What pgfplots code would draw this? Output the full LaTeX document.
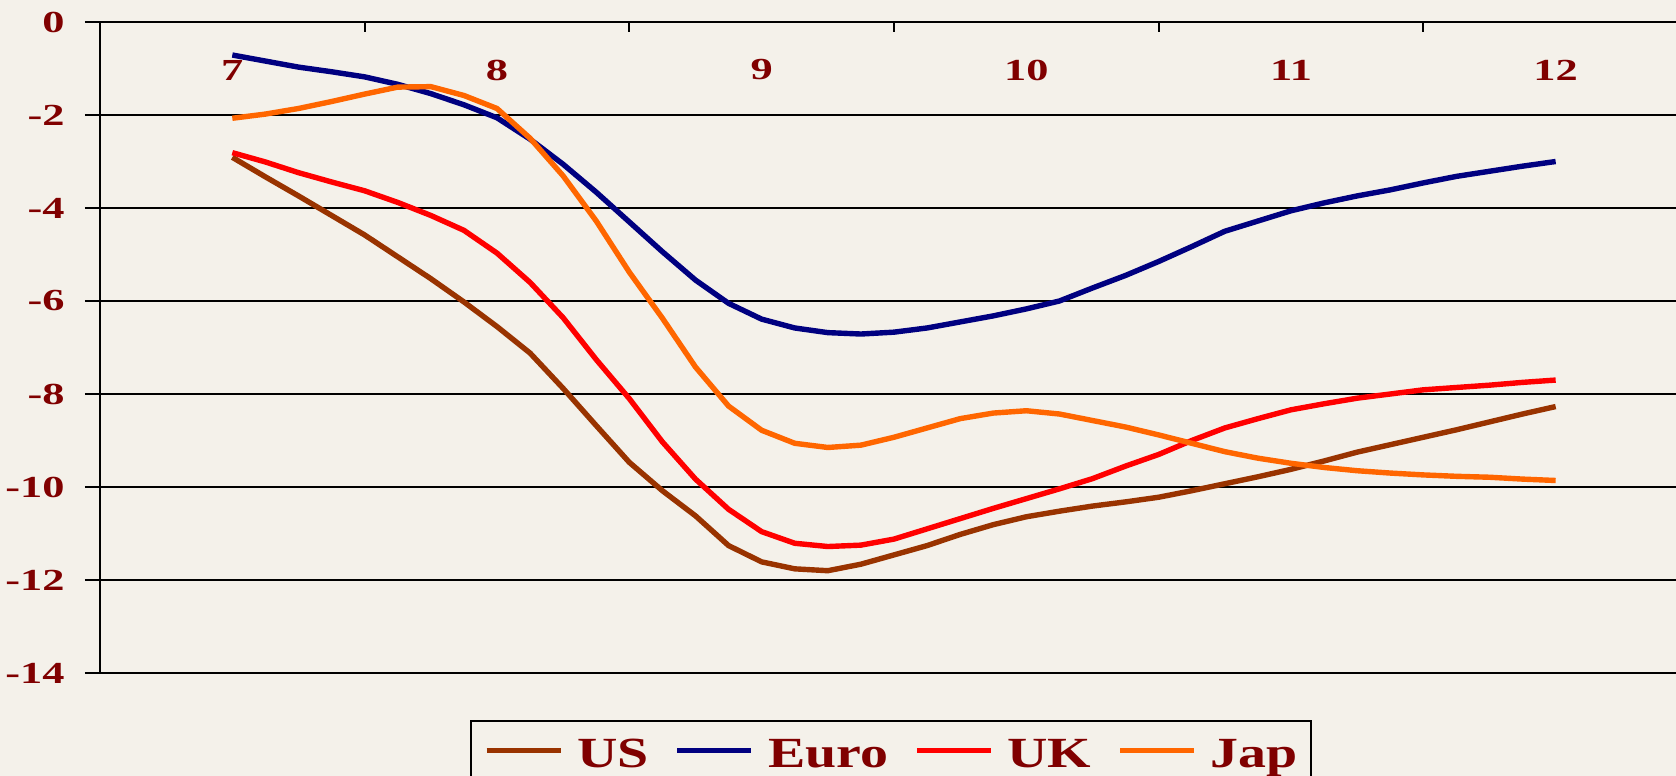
\documentclass[border=0pt]{standalone}
\usepackage{pgfplots}
\pgfplotsset{compat=1.18}
\usepackage{pgfplotstable}
\usepackage{fontspec}
\setmainfont{Liberation Serif}
\newfontfamily\tickfont{Liberation Serif}[FakeStretch=1.45]
\newfontfamily\legfont{Liberation Serif}[FakeStretch=1.3]
\definecolor{bgc}{HTML}{F4F1EA}
\definecolor{txt}{HTML}{800000}
\definecolor{cUS}{HTML}{993300}
\definecolor{cEuro}{HTML}{000080}
\definecolor{cUK}{HTML}{FF0000}
\definecolor{cJap}{HTML}{FF6600}

\pgfplotstableread{
x us euro uk jap
7.000 -2.91 -0.71 -2.81 -2.07
7.125 -3.33 -0.84 -3.01 -1.98
7.250 -3.74 -0.97 -3.24 -1.86
7.375 -4.16 -1.07 -3.44 -1.71
7.500 -4.58 -1.18 -3.63 -1.55
7.625 -5.05 -1.34 -3.88 -1.40
7.750 -5.52 -1.54 -4.16 -1.39
7.875 -6.02 -1.78 -4.48 -1.58
8.000 -6.55 -2.06 -4.97 -1.86
8.125 -7.12 -2.52 -5.60 -2.50
8.250 -7.88 -3.06 -6.36 -3.31
8.375 -8.68 -3.66 -7.26 -4.28
8.500 -9.47 -4.30 -8.10 -5.38
8.625 -10.08 -4.94 -9.03 -6.37
8.750 -10.62 -5.55 -9.83 -7.42
8.875 -11.26 -6.05 -10.48 -8.26
9.000 -11.61 -6.39 -10.96 -8.78
9.125 -11.76 -6.58 -11.21 -9.06
9.250 -11.80 -6.68 -11.28 -9.15
9.375 -11.66 -6.71 -11.25 -9.10
9.500 -11.46 -6.67 -11.12 -8.93
9.625 -11.26 -6.58 -10.90 -8.73
9.750 -11.02 -6.45 -10.68 -8.53
9.875 -10.81 -6.32 -10.46 -8.41
10.000 -10.64 -6.17 -10.25 -8.36
10.125 -10.52 -6.00 -10.04 -8.43
10.250 -10.41 -5.72 -9.82 -8.57
10.375 -10.32 -5.45 -9.55 -8.71
10.500 -10.22 -5.15 -9.30 -8.88
10.625 -10.08 -4.83 -9.00 -9.06
10.750 -9.93 -4.50 -8.73 -9.24
10.875 -9.78 -4.28 -8.53 -9.38
11.000 -9.62 -4.06 -8.34 -9.49
11.125 -9.44 -3.89 -8.21 -9.58
11.250 -9.25 -3.74 -8.09 -9.65
11.375 -9.09 -3.61 -8.00 -9.70
11.500 -8.93 -3.46 -7.91 -9.74
11.625 -8.77 -3.32 -7.86 -9.77
11.750 -8.60 -3.21 -7.81 -9.79
11.875 -8.43 -3.10 -7.75 -9.83
12.000 -8.27 -3.00 -7.70 -9.86
}\datatable

\begin{document}
\begin{tikzpicture}
\useasboundingbox[fill=bgc] (-50pt,11pt) rectangle (788pt,-377pt);
\begin{axis}[
  at={(0pt,0pt)}, anchor=north west,
  scale only axis, width=794pt, height=325.5pt,
  xmin=6.5, xmax=12.5, ymin=-14, ymax=0,
  axis x line=top, axis y line=left,
  axis line style={-, black, line width=1.25pt},
  xtick={7,8,9,10,11,12}, xticklabels={7,8,9,10,11,12},
  ytick={-14,-12,-10,-8,-6,-4,-2,0},
  yticklabels={-14,-12,-10,-8,-6,-4,-2,0},
  tick align=inside, major tick length=0pt,
  tick style={black, line width=1pt},
  extra x ticks={7.5,8.5,9.5,10.5,11.5,12.5}, extra x tick labels={},
  extra x tick style={major tick length=5pt, tick align=inside, grid=none},
  extra y ticks={-14,-12,-10,-8,-6,-4,-2,0}, extra y tick labels={},
  extra y tick style={major tick length=7.5pt, tick align=outside, grid=none},
  ymajorgrids, grid style={black, line width=1pt},
  yticklabel style={font={\fontsize{15.3}{18}\tickfont\bfseries}, text=txt, anchor=east, inner sep=0pt, xshift=-17.5pt},
  xticklabel style={font={\fontsize{15.3}{18}\tickfont\bfseries}, text=txt, anchor=center, inner sep=0pt, yshift=-24pt},
  legend columns=4,
  legend style={
    at={(0.498,-0.0722)}, anchor=north,
    draw=black, line width=1.2pt, fill=bgc,
    inner xsep=6.5pt, inner ysep=8.7pt,
    font={\fontsize{21.5}{26}\legfont\bfseries}, text=txt,
    nodes={inner sep=0pt, text height=14.2pt, text depth=0pt},
    /tikz/column sep=7pt,
    /tikz/every even column/.append style={column sep=13pt},
    cells={anchor=center},
  },
  legend image code/.code={\draw[#1] (0pt,1.25pt) -- (37pt,1.25pt);},
]
\addplot[cUS, line width=2.7pt, line join=round] table[x=x, y=us] {\datatable};
\addlegendentry{US}
\addplot[cEuro, line width=2.7pt, line join=round] table[x=x, y=euro] {\datatable};
\addlegendentry{Euro}
\addplot[cUK, line width=2.7pt, line join=round] table[x=x, y=uk] {\datatable};
\addlegendentry{UK}
\addplot[cJap, line width=2.7pt, line join=round] table[x=x, y=jap] {\datatable};
\addlegendentry{Jap}
\end{axis}
\end{tikzpicture}
\end{document}
